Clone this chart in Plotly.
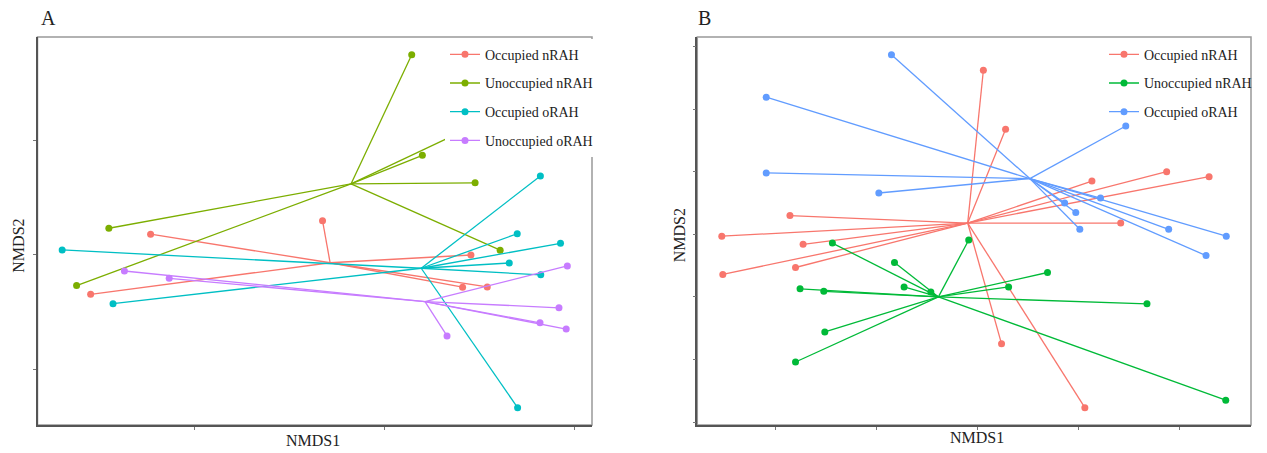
import plotly.graph_objects as go

# ---------------- Panel A (NMDS scores) ----------------
A_groups = ["Occupied nRAH", "Unoccupied nRAH", "Occupied oRAH", "Unoccupied oRAH"]
A_colors = ["#F8766D", "#7CAE00", "#00BFC4", "#C77CFF"]
A_cent_x = [-0.143, -0.088, 0.097, 0.107]
A_cent_y = [-0.034, 0.311, -0.058, -0.204]

A_occ_n_x = [-0.163, -0.616, -0.774, 0.228, 0.206, 0.271]
A_occ_n_y = [0.150, 0.091, -0.172, 0.000, -0.141, -0.140]
A_unocc_n_x = [0.072, 0.100, 0.318, 0.239, 0.305, -0.726, -0.811]
A_unocc_n_y = [0.876, 0.436, 0.630, 0.316, 0.021, 0.117, -0.134]
A_occ_o_x = [0.411, 0.350, 0.464, 0.329, 0.412, 0.351, -0.849, -0.715]
A_occ_o_y = [0.346, 0.093, 0.051, -0.035, -0.087, -0.668, 0.022, -0.213]
A_unocc_o_x = [0.482, 0.460, 0.410, 0.479, 0.165, -0.685, -0.567]
A_unocc_o_y = [-0.048, -0.231, -0.297, -0.324, -0.354, -0.070, -0.102]

A_x = [A_occ_n_x, A_unocc_n_x, A_occ_o_x, A_unocc_o_x]
A_y = [A_occ_n_y, A_unocc_n_y, A_occ_o_y, A_unocc_o_y]
A_xrange = [-0.914, 0.547]
A_yrange = [-0.744, 0.954]
A_xticks = [-0.5, 0, 0.5]
A_yticks = [-0.5, 0, 0.5]

# ---------------- Panel B ----------------
B_groups = ["Occupied nRAH", "Unoccupied nRAH", "Occupied oRAH"]
B_colors = ["#F8766D", "#00BA38", "#619CFF"]
B_cent_x = [-0.019, -0.077, 0.104]
B_cent_y = [0.018, -0.100, 0.089]

B_occ_n_x = [0.012, 0.056, 0.227, 0.375, 0.459, 0.284, -0.371, -0.506, -0.345, -0.360, -0.504, 0.048, 0.213]
B_occ_n_y = [0.262, 0.168, 0.085, 0.100, 0.092, 0.018, 0.030, -0.003, -0.016, -0.053, -0.064, -0.175, -0.277]
B_unocc_n_x = [-0.287, -0.164, -0.145, -0.092, -0.017, -0.351, -0.304, -0.302, -0.360, 0.139, 0.062, 0.336, 0.492]
B_unocc_n_y = [-0.014, -0.045, -0.084, -0.092, -0.009, -0.087, -0.091, -0.156, -0.204, -0.061, -0.084, -0.111, -0.265]
B_occ_o_x = [-0.170, -0.418, -0.195, -0.418, 0.294, 0.173, 0.195, 0.244, 0.203, 0.379, 0.493, 0.453]
B_occ_o_y = [0.287, 0.219, 0.066, 0.098, 0.173, 0.050, 0.035, 0.058, 0.008, 0.008, -0.003, -0.034]

B_x = [B_occ_n_x, B_unocc_n_x, B_occ_o_x]
B_y = [B_occ_n_y, B_unocc_n_y, B_occ_o_y]
B_xrange = [-0.5545, 0.542]
B_yrange = [-0.3046, 0.3152]
B_xticks = [-0.4, -0.2, 0, 0.2, 0.4]
B_yticks = [-0.3, -0.2, -0.1, 0, 0.1, 0.2, 0.3]

FONT = "Times New Roman"
OFF = 8                      # page body margin
W, H = 1267 - OFF, 453 - OFF


def px_x(sx):
    return (sx - OFF) / W


def px_y(sy):
    return (H - (sy - OFF)) / H


def spider(xs, ys, cx, cy, color, name, xa, ya, legend):
    px, py, mc = [], [], []
    for x, y in zip(xs, ys):
        px += [x, cx, None]
        py += [y, cy, None]
        mc += [color, "rgba(0,0,0,0)", color]
    return go.Scatter(
        x=px, y=py, mode="lines+markers", name=name,
        line=dict(color=color, width=1.3),
        marker=dict(size=7, color=mc),
        xaxis=xa, yaxis=ya, legend=legend, legendgroup=legend + name,
        connectgaps=False, hoverinfo="skip",
    )


fig = go.Figure()
for i, g in enumerate(A_groups):
    fig.add_trace(spider(A_x[i], A_y[i], A_cent_x[i], A_cent_y[i], A_colors[i], g, "x", "y", "legend"))
for i, g in enumerate(B_groups):
    fig.add_trace(spider(B_x[i], B_y[i], B_cent_x[i], B_cent_y[i], B_colors[i], g, "x2", "y2", "legend2"))

A_dom_x = [px_x(37.5), px_x(592)]
B_dom_x = [px_x(697.3), px_x(1251)]
dom_y = [px_y(425), px_y(37)]

axis_common = dict(
    showgrid=False, zeroline=False, showticklabels=False,
    ticks="outside", ticklen=3, tickcolor="#777", tickwidth=1,
    showline=True, linecolor="#555", linewidth=1.5,
)

leg_common = dict(xanchor="left", yanchor="top", borderwidth=0, itemwidth=30,
                  tracegroupgap=7.5, font=dict(family=FONT, size=14, color="#222"))

fig.update_layout(
    width=W, height=H,
    margin=dict(l=0, r=0, t=0, b=0),
    paper_bgcolor="white", plot_bgcolor="white",
    font=dict(family=FONT, size=14, color="#222"),
    xaxis=dict(domain=A_dom_x, range=A_xrange, tickvals=A_xticks, anchor="y", **axis_common),
    yaxis=dict(domain=dom_y, range=A_yrange, tickvals=A_yticks, anchor="x", **axis_common),
    xaxis2=dict(domain=B_dom_x, range=B_xrange, tickvals=B_xticks, anchor="y2", **axis_common),
    yaxis2=dict(domain=dom_y, range=B_yrange, tickvals=B_yticks, anchor="x2", **axis_common),
    legend=dict(x=px_x(445), y=px_y(38.7), bgcolor="white", **leg_common),
    legend2=dict(x=px_x(1104), y=px_y(38.7), bgcolor="rgba(255,255,255,0)", **leg_common),
    showlegend=True,
)

# lighter frame (top/right) around each panel
for xd, yd in [("x domain", "y domain"), ("x2 domain", "y2 domain")]:
    fig.add_shape(type="rect", xref=xd, yref=yd, x0=0, x1=1, y0=0, y1=1,
                  line=dict(color="#999", width=1.5), layer="below")

ann = [
    ("A", 48, 18, 20, 0),
    ("B", 704.5, 18, 20, 0),
    ("NMDS1", 313, 440, 16, 0),
    ("NMDS1", 977, 437, 16, 0),
    ("NMDS2", 17.7, 246, 16, -90),
    ("NMDS2", 679.3, 235, 16, -90),
]
for text, sx, sy, size, ang in ann:
    fig.add_annotation(xref="paper", yref="paper", showarrow=False,
                       xanchor="center", yanchor="middle",
                       font=dict(family=FONT, color="#222", size=size),
                       text=text, x=px_x(sx), y=px_y(sy), textangle=ang)

fig.write_html("out.html")
